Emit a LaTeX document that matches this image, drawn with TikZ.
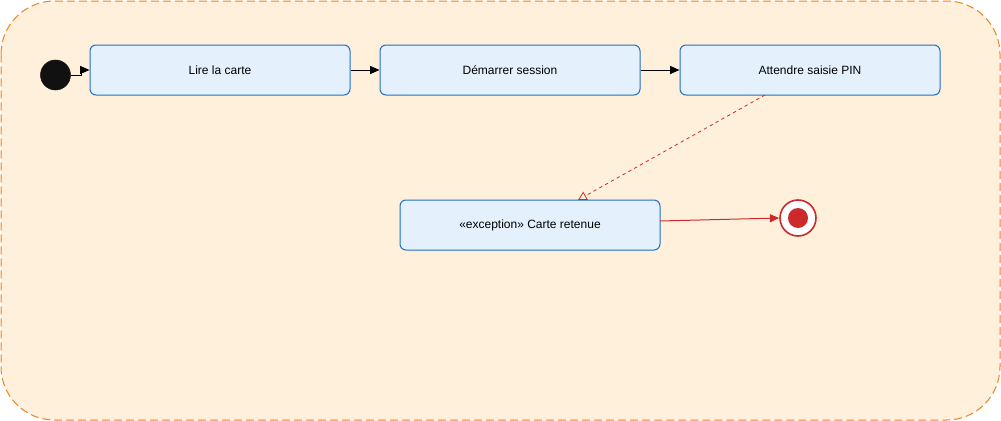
\documentclass[tikz,border=0pt]{standalone}
\usepackage{fontspec}
\setmainfont{Liberation Sans}
\usetikzlibrary{arrows.meta}
\definecolor{contfill}{HTML}{FFF0DC}
\definecolor{contline}{HTML}{F0821E}
\definecolor{boxfill}{HTML}{E4F1FD}
\definecolor{boxline}{HTML}{1F6FC5}
\definecolor{endred}{HTML}{CC2A2A}
\definecolor{initblk}{HTML}{111111}
\tikzset{
  state/.style={draw=boxline, fill=boxfill, rounded corners=4.5pt, minimum width=195pt, minimum height=37.5pt, inner sep=0pt, font=\fontsize{9}{11}\selectfont, line width=0.75pt},
  flow/.style={draw=black, line width=0.75pt, -{Triangle[length=7pt,width=6pt]}},
  excflow/.style={draw=endred, line width=0.6pt, dashed, dash pattern=on 2.5pt off 2.5pt, -{Triangle[open,length=6.5pt,width=7pt]}},
  endflow/.style={draw=endred, line width=0.75pt, -{Triangle[length=7pt,width=6pt]}}
}
\begin{document}
\begin{tikzpicture}[x=0.75pt,y=-0.75pt]
\useasboundingbox (0,0) rectangle (1001,421);
\draw[draw=contline, fill=contfill, dashed, dash pattern=on 6pt off 3pt, line width=0.75pt, rounded corners=40pt] (1,1) rectangle (1000,420);
\node[circle, fill=initblk, draw=initblk, minimum size=22.5pt, inner sep=0pt] (init) at (55.5,75) {};
\node[state] (lire) at (220,70) {Lire la carte};
\node[state] (dem) at (510,70) {Démarrer session};
\node[state] (att) at (810,70) {Attendre saisie PIN};
\node[state] (exc) at (530,225) {«exception» Carte retenue};
\node[circle, draw=endred, fill=white, line width=1.2pt, minimum size=27pt, inner sep=0pt] (fin) at (798,218) {};
\node[circle, fill=endred, minimum size=15pt, inner sep=0pt] (finin) at (798,218) {};
\draw[flow] (init.east) -- (81,75) -- (81,70) -- (lire.west);
\draw[flow] (lire.east) -- (dem.west);
\draw[flow] (dem.east) -- (att.west);
\coordinate (attout) at (765,95);
\coordinate (excin) at (578,200);
\draw[excflow] (attout) -- (excin);
\coordinate (excout) at (660,221);
\draw[endflow] (excout) -- (fin.west);
\end{tikzpicture}
\end{document}
